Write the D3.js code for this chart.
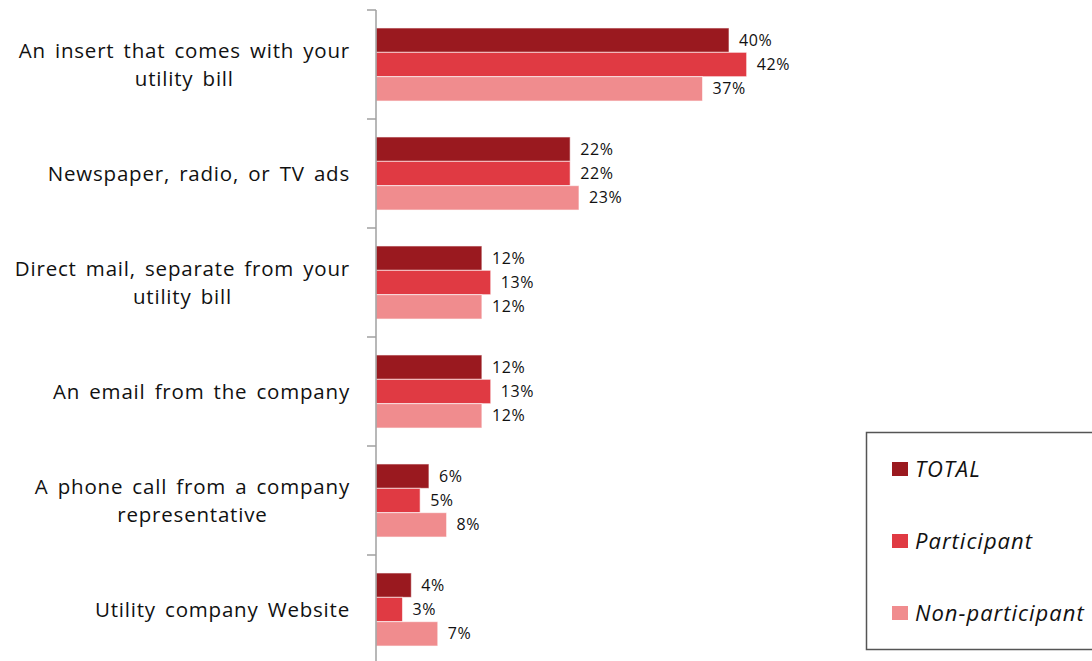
<!DOCTYPE html>
<html>
<head>
<meta charset="utf-8">
<script src="https://cdn.jsdelivr.net/npm/d3@7"></script>
<style>
  body { margin: 0; background: #fff; }
  svg { display: block; font-family: "Open Sans", sans-serif; }
</style>
</head>
<body>
<script>
// categories, top to bottom
const categories = [
  ['An insert that comes with your', 'utility bill'],
  ['Newspaper, radio, or TV ads'],
  ['Direct mail, separate from your', 'utility bill'],
  ['An email from the company'],
  ['A phone call from a company', 'representative'],
  ['Utility company Website']
]
const seriesNames = ['TOTAL', 'Participant', 'Non-participant']
const totalVals = [40, 22, 12, 12, 6, 4]
const participantVals = [42, 22, 13, 13, 5, 3]
const nonParticipantVals = [37, 23, 12, 12, 8, 7]
const colors = ['#9a191f', '#e03a43', '#f08c8e']

const W = 1092, H = 661
const axisX = 376, topY = 10, bandH = 109

const svg = d3.select('body').append('svg')
  .attr('width', W)
  .attr('height', H)

const series = [totalVals, participantVals, nonParticipantVals]

const y = d3.scaleBand()
  .domain(d3.range(categories.length))
  .range([topY, topY + bandH * categories.length])
  .paddingInner(0.33)
  .paddingOuter(0.165)

const ySub = d3.scaleBand()
  .domain(d3.range(series.length))
  .range([0, y.bandwidth()])

const x = d3.scaleLinear()
  .domain([0, 40])
  .range([axisX, 729])

// bars
series.forEach((vals, s) => {
  svg.append('g').selectAll('rect')
    .data(vals)
    .enter().append('rect')
    .attr('x', x(0))
    .attr('y', (d, i) => y(i) + ySub(s))
    .attr('width', d => x(d) - x(0))
    .attr('height', ySub.bandwidth())
    .attr('fill', colors[s])
    .attr('stroke', '#fff')
    .attr('stroke-opacity', 0.6)
    .attr('stroke-width', 1)

  svg.append('g').selectAll('text')
    .data(vals)
    .enter().append('text')
    .attr('x', d => x(d) + 10)
    .attr('y', (d, i) => y(i) + ySub(s) + ySub.bandwidth() / 2)
    .attr('dy', '0.35em')
    .attr('font-size', 16)
    .attr('letter-spacing', 0.6)
    .attr('fill', '#111')
    .text(d => d + '%')
})

// axis line and ticks
const ticks = d3.range(categories.length + 1).map(i => topY + i * bandH)
svg.append('line')
  .attr('x1', axisX).attr('x2', axisX)
  .attr('y1', topY).attr('y2', H)
  .attr('stroke', '#a0a0a0').attr('stroke-width', 1.5)
svg.append('g').selectAll('line')
  .data(ticks)
  .enter().append('line')
  .attr('x1', axisX - 9).attr('x2', axisX)
  .attr('y1', d => d).attr('y2', d => d)
  .attr('stroke', '#a0a0a0').attr('stroke-width', 1.5)

// category labels: block right-aligned, lines centred in block
const labelRight = 350, lineH = 28
categories.forEach((lines, i) => {
  const g = svg.append('g')
  const cy = y(i) + y.bandwidth() / 2
  const texts = lines.map((l, j) => g.append('text')
    .attr('font-size', 20.5)
    .attr('letter-spacing', 0.8)
    .attr('word-spacing', 3)
    .attr('fill', '#111')
    .attr('y', cy + (j - (lines.length - 1) / 2) * lineH)
    .attr('dy', '0.35em')
    .attr('text-anchor', 'middle')
    .text(l))
  const maxW = d3.max(texts, t => t.node().getBBox().width)
  texts.forEach(t => t.attr('x', labelRight - maxW / 2))
})

// legend
const legend = svg.append('g')
legend.append('rect')
  .attr('x', 866.5).attr('y', 432.5)
  .attr('width', 240).attr('height', 217)
  .attr('fill', '#fff')
  .attr('stroke', '#555').attr('stroke-width', 1.5)
seriesNames.forEach((n, i) => {
  const ly = 469 + i * 72
  legend.append('rect')
    .attr('x', 892).attr('y', ly - 7)
    .attr('width', 16).attr('height', 14)
    .attr('fill', colors[i])
  legend.append('text')
    .attr('x', 915).attr('y', ly)
    .attr('dy', '0.35em')
    .attr('font-size', 22)
    .attr('letter-spacing', 1)
    .attr('font-style', 'italic')
    .attr('fill', '#111')
    .text(n)
})
</script>
</body>
</html>
